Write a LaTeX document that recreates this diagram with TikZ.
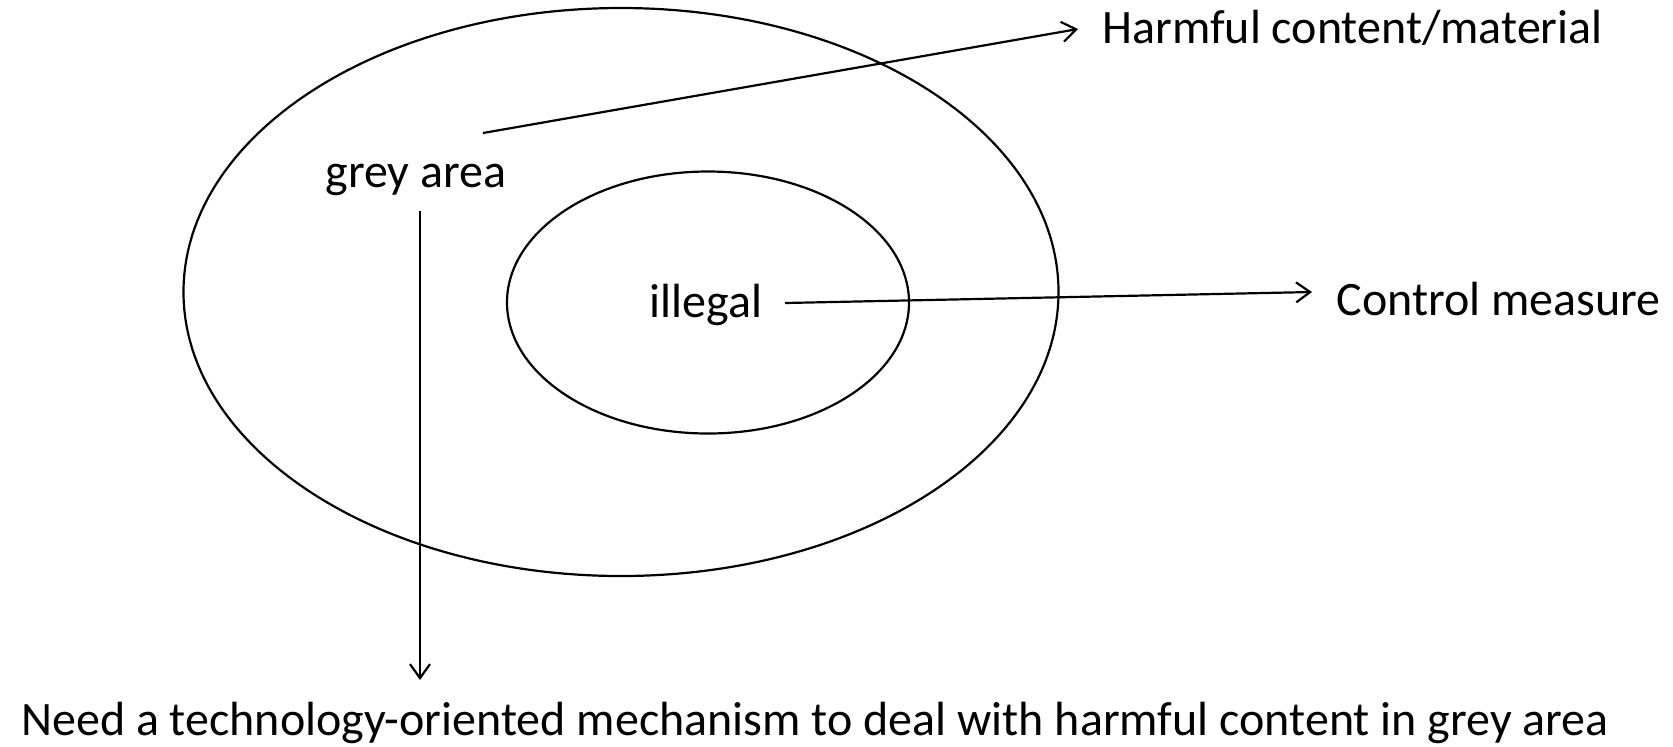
\documentclass[tikz,border=0pt]{standalone}
\usepackage{fontspec}
\setmainfont{Carlito}
\usetikzlibrary{shapes.geometric,arrows.meta}
\begin{document}
\begin{tikzpicture}[x=0.5pt,y=-0.5pt,
  ring/.style={draw,ellipse,line width=1.1pt,inner sep=0},
  lbl/.style={font=\fontsize{24}{28}\selectfont,inner sep=0},
  conn/.style={line width=1.1pt,-{Straight Barb[length=7pt,width=10pt,line width=1.1pt]}}]
\useasboundingbox (0,0) rectangle (1673,746);
\node[ring,minimum width=437.5pt,minimum height=284pt] (outer) at (621,292) {};
\node[ring,minimum width=201pt,minimum height=131pt] (inner) at (708,302.5) {};
\node[lbl,anchor=base] (grey) at (416,187) {grey area};
\node[lbl,anchor=base] (illegal) at (706,317) {illegal};
\node[lbl,anchor=base west] (harm) at (1102,43) {Harmful content/material};
\node[lbl,anchor=base west] (control) at (1336,315) {Control measure};
\node[lbl,anchor=base] (need) at (815,735) {Need a technology-oriented mechanism to deal with harmful content in grey area};
\coordinate (g1) at (483,133);
\coordinate (i1) at (785,303);
\coordinate (g3) at (420,211);
\coordinate (g3e) at (420,680);
\draw[conn] (g1) -- ([xshift=-12pt,yshift=7pt]harm.base west);
\draw[conn] (i1) -- ([xshift=-12pt,yshift=11.5pt]control.base west);
\draw[conn] (g3) -- (g3e);
\end{tikzpicture}
\end{document}
